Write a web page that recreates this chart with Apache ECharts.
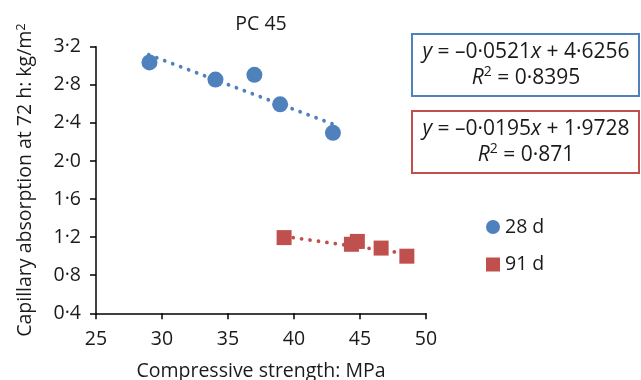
<!DOCTYPE html>
<html><head><meta charset="utf-8">
<script src="https://cdn.jsdelivr.net/npm/echarts@6/dist/echarts.min.js"></script>
<style>html,body{margin:0;padding:0;background:#fff}#c{width:641px;height:380px}</style>
</head><body><div id="c"></div>
<script>
var title = 'PC 45';
var xName = 'Compressive strength: MPa';
var yName = 'Capillary absorption at 72 h: kg/m{s|2}';
var seriesNames = ['28 d', '91 d'];
var data28 = [[29.05, 3.035], [34.05, 2.855], [37.0, 2.905], [38.95, 2.595], [42.95, 2.295]];
var data91 = [[39.25, 1.195], [44.35, 1.125], [44.8, 1.155], [46.6, 1.085], [48.55, 1.0]];
var trend28 = [[29.0, 3.115], [43.0, 2.385]];
var trend91 = [[39.3, 1.207], [48.6, 1.025]];
var eq28 = ['{i|y} = –0·0521{i|x} + 4·6256', '{i|R}{s|2} = 0·8395'];
var eq91 = ['{i|y} = –0·0195{i|x} + 1·9728', '{i|R}{s|2} = 0·871'];
var xTicks = {min: 25, max: 50, interval: 5};
var yTicks = {min: 0.4, max: 3.2, interval: 0.4};

var blue = '#4F81BD', red = '#C0504D';
var FONT = 'Open Sans';
var FS = 19.5;
var chart = echarts.init(document.getElementById('c'));
var dotted = function (c) { return {color: c, width: 3.8, type: [0.01, 8.5], cap: 'round'}; };
var eqRich = {
  i: {fontStyle: 'italic', fontSize: 21, fontFamily: FONT, color: '#1a1a1a'},
  s: {fontSize: 14, fontFamily: FONT, verticalAlign: 'top', color: '#1a1a1a', padding: [0,0,9,0]}
};
chart.setOption({
  animation: false,
  textStyle: {fontFamily: FONT},
  title: {text: title, left: 256, top: 9, textAlign: 'center',
    textStyle: {fontSize: FS, fontWeight: 'normal', color: '#1a1a1a', fontFamily: FONT}},
  grid: {left: 96, right: 215, top: 46.7, bottom: 66.7, containLabel: false, outerBoundsMode: 'none'},
  xAxis: {type: 'value', min: xTicks.min, max: xTicks.max, interval: xTicks.interval,
    name: xName, nameLocation: 'middle', nameGap: 48,
    nameTextStyle: {fontSize: FS, color: '#1a1a1a', fontFamily: FONT},
    axisLine: {lineStyle: {color: '#000', width: 1.5}},
    axisTick: {length: 6, lineStyle: {color: '#000', width: 1.5}},
    axisLabel: {fontSize: FS, color: '#1a1a1a', margin: 16, fontFamily: FONT},
    splitLine: {show: false}},
  yAxis: {type: 'value', min: yTicks.min, max: yTicks.max, interval: yTicks.interval,
    name: yName, nameLocation: 'middle', nameGap: 61, nameRotate: 90,
    nameTextStyle: {fontSize: FS, color: '#1a1a1a', fontFamily: FONT,
      rich: {s: {fontSize: 13, verticalAlign: 'top', color: '#1a1a1a', fontFamily: FONT}}},
    axisLine: {show: true, lineStyle: {color: '#000', width: 1.5}},
    axisTick: {show: true, length: 6, lineStyle: {color: '#000', width: 1.5}},
    axisLabel: {fontSize: FS, color: '#1a1a1a', margin: 15, fontFamily: FONT,
      formatter: function (v) { return v.toFixed(1).replace('.', '·'); }},
    splitLine: {show: false}},
  legend: {orient: 'vertical', left: 481, top: 212, itemGap: 17.5, itemWidth: 14, itemHeight: 14,
    textStyle: {fontSize: FS, color: '#1a1a1a', fontFamily: FONT},
    data: [{name: seriesNames[0], icon: 'circle'}, {name: seriesNames[1], icon: 'rect'}]},
  series: [
    {type: 'line', data: trend28, symbol: 'none', lineStyle: dotted(blue), silent: true, z: 1},
    {type: 'line', data: trend91, symbol: 'none', lineStyle: dotted(red), silent: true, z: 1},
    {name: seriesNames[0], type: 'scatter', data: data28, symbol: 'circle', symbolSize: 16,
      itemStyle: {color: blue, opacity: 1}, z: 3},
    {name: seriesNames[1], type: 'scatter', data: data91, symbol: 'rect', symbolSize: 15,
      itemStyle: {color: red, opacity: 1}, z: 3}
  ],
  graphic: [
    {type: 'rect', shape: {x: 412, y: 34, width: 227, height: 62}, style: {fill: '#fff', stroke: blue, lineWidth: 2}},
    {type: 'text', x: 526, y: 65, style: {text: eq28.join('\n'), align: 'center', verticalAlign: 'middle',
      fontSize: 21, fontFamily: FONT, fill: '#1a1a1a', lineHeight: 26, rich: eqRich}},
    {type: 'rect', shape: {x: 412, y: 111, width: 227, height: 62}, style: {fill: '#fff', stroke: red, lineWidth: 2}},
    {type: 'text', x: 526, y: 142, style: {text: eq91.join('\n'), align: 'center', verticalAlign: 'middle',
      fontSize: 21, fontFamily: FONT, fill: '#1a1a1a', lineHeight: 26, rich: eqRich}}
  ]
});
</script></body></html>
